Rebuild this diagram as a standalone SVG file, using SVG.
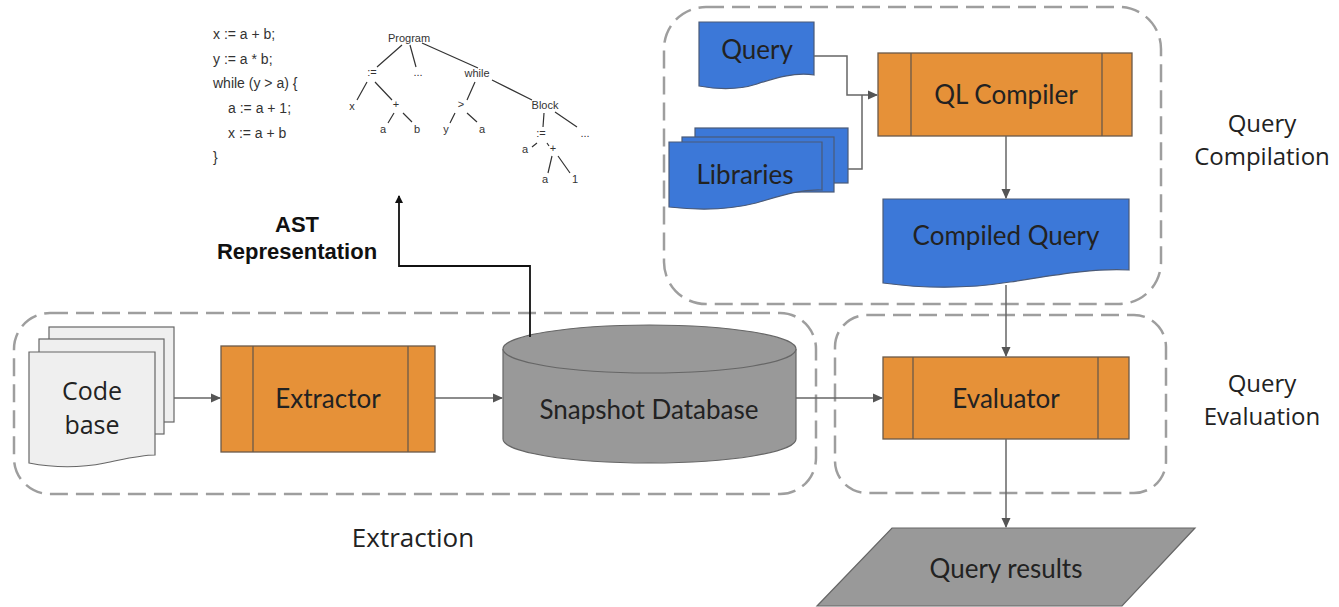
<svg xmlns="http://www.w3.org/2000/svg" width="1339" height="607" viewBox="0 0 1339 607">
<style>
.container{fill:none;stroke:#9e9e9e;stroke-width:2.5;stroke-dasharray:18 8}
.proc{fill:#e69138;stroke:#6b5a4a;stroke-width:1.3}
.doc{fill:#3c78d8;stroke:#4a5a78;stroke-width:1.2}
.page{fill:#efefef;stroke:#666;stroke-width:1.2}
.gray{fill:#999;stroke:#666;stroke-width:1.2}
.lbl{font-family:Lato,"Open Sans",sans-serif;font-size:26px;fill:#222;text-anchor:middle}
.side{font-family:"Open Sans",sans-serif;font-size:24px;fill:#222;text-anchor:middle}
.conn{fill:none;stroke:#666;stroke-width:1.5}
.code{font-family:"Liberation Sans",Arial,sans-serif;font-size:14px;fill:#333}
.tree{font-family:"Liberation Sans",Arial,sans-serif;font-size:11px;fill:#333;text-anchor:middle}
.tl{stroke:#333;stroke-width:1.2;fill:none}
</style>
<defs>
<marker id="ah" markerWidth="10" markerHeight="10" refX="9" refY="5" orient="auto" markerUnits="userSpaceOnUse"><path d="M0,0.5 L10,5 L0,9.5 Z" fill="#555"/></marker>
<marker id="ahk" markerWidth="8" markerHeight="10" refX="7" refY="5" orient="auto" markerUnits="userSpaceOnUse"><path d="M0,1 L8,5 L0,9 Z" fill="#111"/></marker>
</defs>
<rect width="1339" height="607" fill="#fff"/>

<g id="containers">
<rect class="container" x="664" y="7" width="497" height="297" rx="42"/>
<rect class="container" x="14" y="313" width="802" height="181" rx="36"/>
<rect class="container" x="835" y="315" width="331" height="178" rx="32"/>
<text class="side" x="1262" y="132">Query</text>
<text class="side" x="1262" y="165">Compilation</text>
<text class="side" x="1262" y="392">Query</text>
<text class="side" x="1262" y="425">Evaluation</text>
<text class="side" x="413" y="547" style="font-size:26px">Extraction</text>
</g>

<g id="ast-code">
<text class="code" x="213" y="39">x := a + b;</text>
<text class="code" x="213" y="64">y := a * b;</text>
<text class="code" x="213" y="88">while (y &gt; a) {</text>
<text class="code" x="228" y="113">a := a + 1;</text>
<text class="code" x="228" y="138">x := a + b</text>
<text class="code" x="213" y="162">}</text>
</g>

<g id="ast-tree">
<text class="tree" x="409" y="42">Program</text>
<text class="tree" x="372" y="76">:=</text>
<text class="tree" x="418" y="76">...</text>
<text class="tree" x="477" y="77">while</text>
<text class="tree" x="352" y="110">x</text>
<text class="tree" x="396" y="108">+</text>
<text class="tree" x="383" y="133">a</text>
<text class="tree" x="417" y="133">b</text>
<text class="tree" x="461" y="108">&gt;</text>
<text class="tree" x="446" y="133">y</text>
<text class="tree" x="482" y="133">a</text>
<text class="tree" x="545" y="109">Block</text>
<text class="tree" x="541" y="137">:=</text>
<text class="tree" x="585" y="137">...</text>
<text class="tree" x="525" y="153">a</text>
<text class="tree" x="553" y="152">+</text>
<text class="tree" x="545" y="183">a</text>
<text class="tree" x="575" y="183">1</text>
<path class="tl" d="M402,45 L377,67 M410,45 L416,67 M422,43 L478,68 M367,82 L357,100 M375,82 L392,100 M394,113 L388,123 M403,113 L412,122 M475,82 L467,100 M492,80 L532,100 M455,113 L450,123 M467,113 L477,122 M544,113 L543,127 M555,112 L577,127 M537,143 L532,147 M547,143 L549,146 M552,156 L548,173 M558,156 L570,173"/>
</g>

<g id="ast-label">
<text x="297" y="232" style="font-family:'Liberation Sans',Arial,sans-serif;font-weight:bold;font-size:22px;fill:#111;text-anchor:middle">AST</text>
<text x="297" y="259" style="font-family:'Liberation Sans',Arial,sans-serif;font-weight:bold;font-size:22px;fill:#111;text-anchor:middle">Representation</text>
</g>

<g id="query">
<path class="doc" d="M699,22 H814 V75 C795,72 775,78 757,84 C735,91 715,89 699,86 Z"/>
<text class="lbl" x="757" y="59">Query</text>
</g>

<g id="libraries">
<rect class="doc" x="695" y="128" width="153" height="55"/>
<rect class="doc" x="682" y="137" width="152" height="55"/>
<path class="doc" d="M669,142 H822 V190 C800,189 780,196 756,203 C725,211 695,210 669,207 Z"/>
<text class="lbl" x="745" y="184">Libraries</text>
</g>

<g id="ql-compiler">
<rect class="proc" x="878" y="53" width="254" height="83"/>
<line class="proc" x1="911" y1="53" x2="911" y2="136"/>
<line class="proc" x1="1102" y1="53" x2="1102" y2="136"/>
<text class="lbl" x="1006" y="104">QL Compiler</text>
</g>

<g id="compiled-query">
<path class="doc" d="M883,199 H1129 V270 C1090,268 1050,276 1010,282 C960,290 920,288 883,283 Z"/>
<text class="lbl" x="1006" y="245">Compiled Query</text>
</g>

<g id="code-base">
<rect class="page" x="49" y="327" width="125" height="95"/>
<rect class="page" x="39" y="339" width="125" height="95"/>
<path class="page" d="M29,352 H155 V455 C140,455 125,459 105,463 C80,468 55,468 29,463 Z"/>
<text x="92" y="400" style="font-family:'Open Sans',sans-serif;font-size:25px;fill:#222;text-anchor:middle">Code</text>
<text x="92" y="434" style="font-family:'Open Sans',sans-serif;font-size:25px;fill:#222;text-anchor:middle">base</text>
</g>

<g id="extractor">
<rect class="proc" x="221" y="346" width="214" height="106"/>
<line class="proc" x1="253" y1="346" x2="253" y2="452"/>
<line class="proc" x1="408" y1="346" x2="408" y2="452"/>
<text class="lbl" x="328" y="408">Extractor</text>
</g>

<g id="snapshot-db">
<path class="gray" d="M503,349 V439 A146.5,24 0 0 0 796,439 V349"/>
<ellipse class="gray" cx="649.5" cy="349" rx="146.5" ry="24"/>
<text class="lbl" x="649" y="419">Snapshot Database</text>
</g>

<g id="evaluator">
<rect class="proc" x="883" y="357" width="246" height="82"/>
<line class="proc" x1="913" y1="357" x2="913" y2="439"/>
<line class="proc" x1="1098" y1="357" x2="1098" y2="439"/>
<text class="lbl" x="1006" y="408">Evaluator</text>
</g>

<g id="query-results">
<polygon class="gray" points="892,528 1195,528 1122,606 817,606"/>
<text class="lbl" x="1006" y="578">Query results</text>
</g>

<g id="connectors">
<path class="conn" d="M814,56 H847 V95 H877" marker-end="url(#ah)"/>
<path class="conn" d="M848,169 H862 V95"/>
<path class="conn" d="M1006,136 V198" marker-end="url(#ah)"/>
<path class="conn" d="M1006,285 V356" marker-end="url(#ah)"/>
<path class="conn" d="M1006,439 V527" marker-end="url(#ah)"/>
<path class="conn" d="M174,398 H220" marker-end="url(#ah)"/>
<path class="conn" d="M435,398 H502" marker-end="url(#ah)"/>
<path class="conn" d="M796,398 H882" marker-end="url(#ah)"/>
<path d="M530,337 V266 H399 V196" fill="none" stroke="#111" stroke-width="1.8" marker-end="url(#ahk)"/>
</g>
</svg>
